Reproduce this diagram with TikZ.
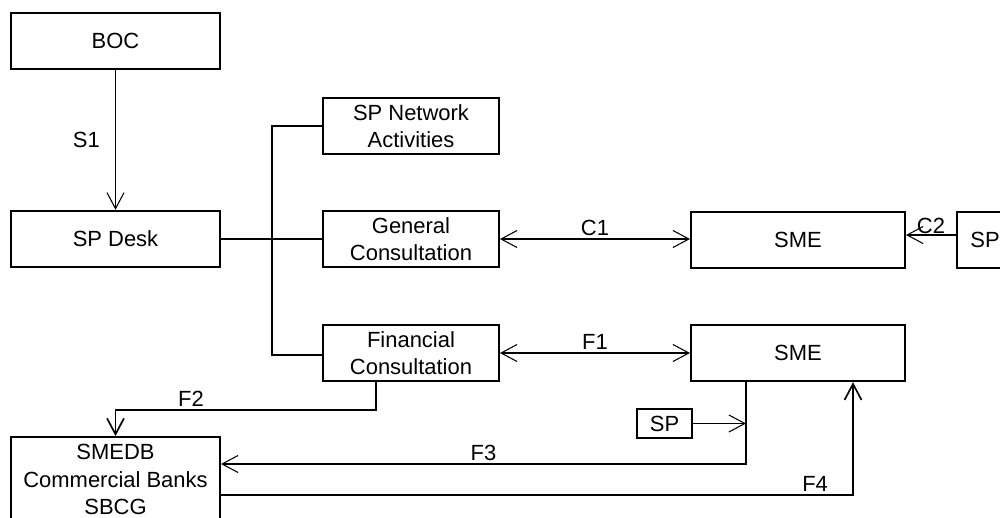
\documentclass[tikz,border=0pt]{standalone}
\usepackage{fontspec}
\setmainfont{Liberation Sans}
\usetikzlibrary{arrows.meta, positioning}
\tikzset{
  every picture/.style={font=\fontsize{12.5}{15.5}\selectfont, line width=0.6pt},
  box/.style={draw, line width=1.1pt, align=center, inner sep=0pt, minimum width=#1, minimum height=1.13cm},
  box/.default=4.18cm,
  arrow/.style={-{Straight Barb[length=3.2mm, width=3.4mm]}},
  twoway/.style={{Straight Barb[length=3.2mm, width=3.4mm]}-{Straight Barb[length=3.2mm, width=3.4mm]}},
  trunk/.style={line width=1.3pt},
  heavy/.style={line width=0.95pt},
  lbl/.style={inner sep=1.5pt},
}

\begin{document}
\begin{tikzpicture}[x=0.02cm, y=-0.02cm]
  \useasboundingbox (0,0) rectangle (1000,517);
  % boxes
  \node[box] (boc) at (115.5,41) {BOC};
  \node[box] (desk) at (115.5,239) {SP Desk};
  \node[box=3.52cm] (net) at (411,126) {SP Network\\Activities};
  \node[box=3.52cm] (gen) at (411,239) {General\\Consultation};
  \node[box=3.52cm] (fin) at (411,353) {Financial\\Consultation};
  \node[box=4.28cm] (smeA) at (798,240) {SME};
  \node[box=4.28cm] (smeB) at (798,353) {SME};
  \node[box=1.12cm] (spA) at (985,240) {SP};
  \node[box=1.1cm, minimum height=0.58cm] (spB) at (664.5,423.5) {SP};
  \node[box, minimum height=1.7cm] (bank) at (115.5,479.5) {SMEDB\\Commercial Banks\\SBCG};
  % desk and its branches
  \draw[arrow] (boc) -- node[lbl, left=0.25cm] {S1} (desk);
  \coordinate (ttop) at (272,126);
  \coordinate (tbot) at (272,355);
  \draw[trunk] (net.west) -- (ttop) -- (tbot) -- (tbot -| fin.west);
  \draw[heavy] (desk) -- (gen);
  % consultation flows
  \draw[twoway] (gen.east) -- node[lbl, above] {C1} (gen.east -| smeA.west);
  \draw[arrow] ([yshift=1mm]spA.west) -- node[lbl, above, inner sep=0.5pt] {C2} ([yshift=1mm]smeA.east);
  \draw[twoway] (fin) -- node[lbl, above] {F1} (smeB);
  % finance flows
  \draw[arrow, heavy] ([xshift=-0.7cm]fin.south) -- ++(0,28) -| node[lbl, above, pos=0.355] {F2} (bank.north);
  \coordinate (f3) at (746,464);
  \draw[arrow] (f3 |- smeB.south) -- (f3) -- node[lbl, above] {F3} (f3 -| bank.east);
  \draw[arrow] (spB) -- (spB -| f3);
  \coordinate (f4) at (853,495);
  \draw[arrow, heavy] (f4 -| bank.east) -- node[lbl, above, pos=0.94] {F4} (f4) -- (f4 |- smeB.south);
\end{tikzpicture}
\end{document}
